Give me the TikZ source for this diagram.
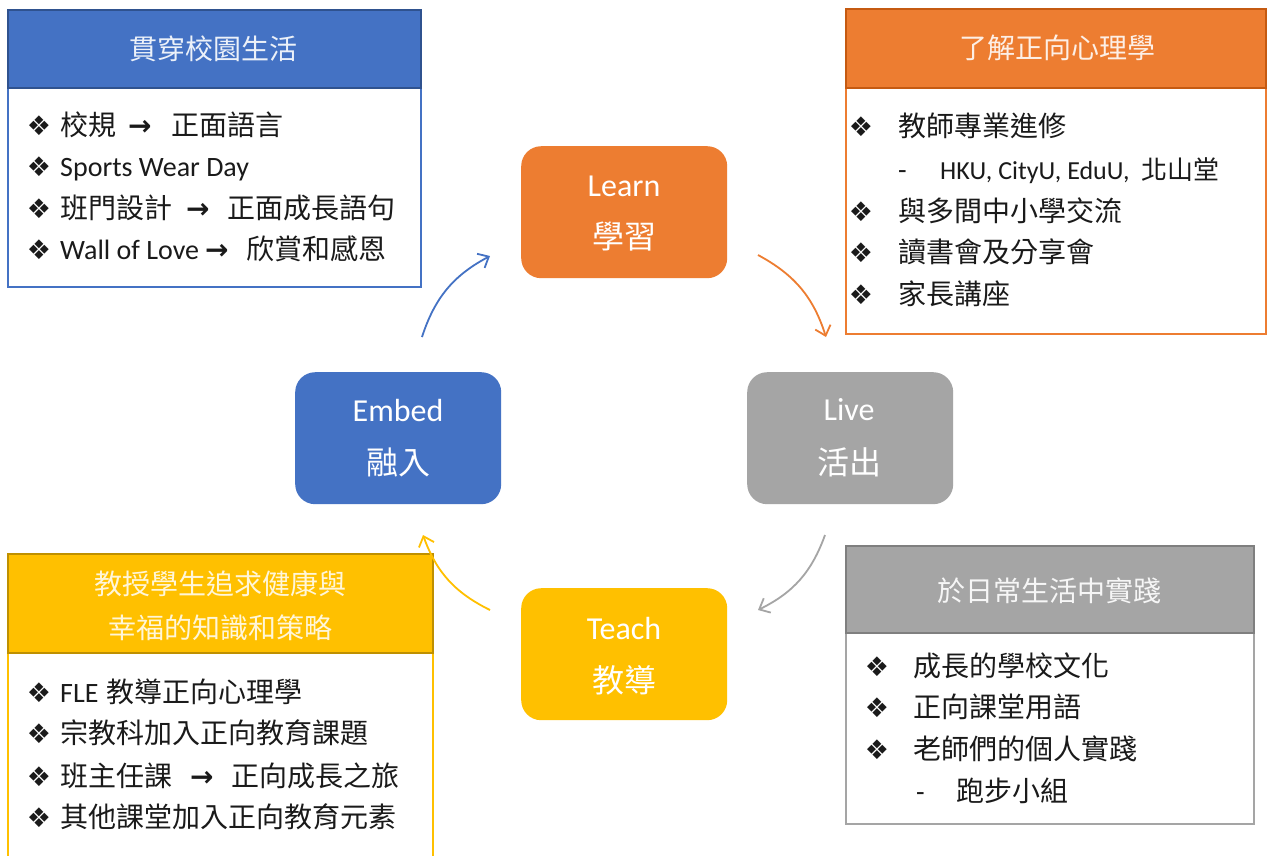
\documentclass[tikz,border=0pt]{standalone}
\usepackage{fontspec}
\setmainfont{Carlito}
\newfontfamily\cjk{Noto Sans CJK TC}
\newfontfamily\sym{DejaVu Sans}
\usetikzlibrary{arrows.meta}
\definecolor{cblue}{HTML}{4472C4}
\definecolor{cblueD}{HTML}{2F528F}
\definecolor{corange}{HTML}{ED7D31}
\definecolor{corangeD}{HTML}{C55A11}
\definecolor{cyellow}{HTML}{FFC000}
\definecolor{cyellowD}{HTML}{BF9000}
\definecolor{cgray}{HTML}{A5A5A5}
\definecolor{cgrayD}{HTML}{7F7F7F}
\definecolor{textc}{HTML}{1A1A1A}
\newcommand{\zh}[1]{{\cjk #1}}
\newcommand{\rarr}{{\sym\bfseries →}}
\begin{document}
\begin{tikzpicture}[x=1pt,y=-1pt,
  outerbox/.style={draw, line width=2pt, anchor=north west, inner sep=0pt, fill=white},
  headbox/.style={draw, line width=1.5pt, anchor=north west, inner sep=0pt},
  hdr/.style={inner sep=0pt, font=\cjk\fontsize{28}{44}\selectfont, align=center},
  txt/.style={anchor=west, inner sep=0pt, text=textc, text height=23pt, text depth=5pt, font=\fontsize{28}{30}\selectfont},
  dia/.style={anchor=center, inner sep=0pt, text=textc, font=\sym\fontsize{27}{30}\selectfont},
  cyc/.style={rounded corners=20pt, inner sep=0pt, minimum width=206pt, minimum height=132pt, anchor=north west},
  cyctxt/.style={inner sep=0pt, text=white, font=\fontsize{32}{34}\selectfont},
  flow/.style={line width=1.8pt, -{Straight Barb[length=9pt,width=16pt,line width=1.8pt]}, bend left=22}
]
\useasboundingbox (0,0) rectangle (1267,855);
\fill[white] (0,0) rectangle (1267,855);

% ---------- top-left blue box ----------
\node[outerbox, draw=cblue, minimum width=413pt, minimum height=277pt] (embBox) at (7,9) {};
\node[headbox, fill=cblue, draw=cblueD, minimum width=413pt, minimum height=78pt] (embHead) at (7,9) {};
\node[hdr, text=white!90!cblue] (embHdr) at (213,49) {貫穿校園生活};
\node[dia] (eb1) at (39,126) {❖};
\node[txt] (et1) at (60,126) {\zh{校規}\hspace{12pt}\rarr\hspace{20pt}\zh{正面語言}};
\node[dia] (eb2) at (39,167) {❖};
\node[txt] (et2) at (60,167) {Sports Wear Day};
\node[dia] (eb3) at (39,209) {❖};
\node[txt] (et3) at (60,209) {\zh{班門設計}\hspace{14pt}\rarr\hspace{18pt}\zh{正面成長語句}};
\node[dia] (eb4) at (39,250) {❖};
\node[txt] (et4) at (60,250) {Wall of Love\hspace{6pt}\rarr\hspace{18pt}\zh{欣賞和感恩}};

% ---------- top-right orange box ----------
\node[outerbox, draw=corange, minimum width=420pt, minimum height=325pt] (lrnBox) at (845,8) {};
\node[headbox, fill=corange, draw=corangeD, minimum width=420pt, minimum height=79pt] (lrnHead) at (845,8) {};
\node[hdr, text=white!88!corange] (lrnHdr) at (1057,48) {了解正向心理學};
\node[dia] (lb1) at (861,127) {❖};
\node[txt] (lt1) at (898,127) {\zh{教師專業進修}};
\node[txt] (ld2) at (898,170) {-};
\node[txt, font=\fontsize{26}{28}\selectfont] (lt2) at (940,170) {HKU, CityU, EduU,\hspace{12pt}\zh{北山堂}};
\node[dia] (lb3) at (861,212) {❖};
\node[txt] (lt3) at (898,212) {\zh{與多間中小學交流}};
\node[dia] (lb4) at (861,253) {❖};
\node[txt] (lt4) at (898,253) {\zh{讀書會及分享會}};
\node[dia] (lb5) at (861,295) {❖};
\node[txt] (lt5) at (898,295) {\zh{家長講座}};

% ---------- bottom-left yellow box ----------
\node[outerbox, draw=cyellow, minimum width=425pt, minimum height=320pt] (tchBox) at (7,553) {};
\node[headbox, fill=cyellow, draw=cyellowD, minimum width=425pt, minimum height=99pt] (tchHead) at (7,553) {};
\node[hdr, text=white!85!cyellow] (tchHdr) at (220,606) {教授學生追求健康與\\幸福的知識和策略};
\node[dia] (tb1) at (39,693) {❖};
\node[txt] (tt1) at (60,693) {FLE\hspace{8pt}\zh{教導正向心理學}};
\node[dia] (tb2) at (39,734) {❖};
\node[txt] (tt2) at (60,734) {\zh{宗教科加入正向教育課題}};
\node[dia] (tb3) at (39,777) {❖};
\node[txt] (tt3) at (60,777) {\zh{班主任課}\hspace{18pt}\rarr\hspace{18pt}\zh{正向成長之旅}};
\node[dia] (tb4) at (39,818) {❖};
\node[txt] (tt4) at (60,818) {\zh{其他課堂加入正向教育元素}};

% ---------- bottom-right gray box ----------
\node[outerbox, draw=cgray, minimum width=408pt, minimum height=278pt] (livBox) at (845,545) {};
\node[headbox, fill=cgray, draw=cgrayD, minimum width=408pt, minimum height=87pt] (livHead) at (845,545) {};
\node[hdr, text=white!90!cgray] (livHdr) at (1049,591) {於日常生活中實踐};
\node[dia] (vb1) at (877,667) {❖};
\node[txt] (vt1) at (913,667) {\zh{成長的學校文化}};
\node[dia] (vb2) at (877,708) {❖};
\node[txt] (vt2) at (913,708) {\zh{正向課堂用語}};
\node[dia] (vb3) at (877,750) {❖};
\node[txt] (vt3) at (913,750) {\zh{老師們的個人實踐}};
\node[txt] (vd4) at (916,792) {-};
\node[txt] (vt4) at (956,792) {\zh{跑步小組}};

% ---------- cycle boxes ----------
\node[cyc, fill=corange] (learn) at (521,146) {};
\node[cyctxt] (learnE) at (624,186) {Learn};
\node[cyctxt, font=\cjk\fontsize{32}{34}\selectfont] (learnC) at (624,237) {學習};

\node[cyc, fill=cblue] (embed) at (295,372) {};
\node[cyctxt] (embedE) at (398,410) {Embed};
\node[cyctxt, font=\cjk\fontsize{32}{34}\selectfont] (embedC) at (398,462) {融入};

\node[cyc, fill=cgray] (live) at (747,372) {};
\node[cyctxt] (liveE) at (849,410) {Live};
\node[cyctxt, font=\cjk\fontsize{32}{34}\selectfont] (liveC) at (849,462) {活出};

\node[cyc, fill=cyellow] (teach) at (521,588) {};
\node[cyctxt] (teachE) at (624,628) {Teach};
\node[cyctxt, font=\cjk\fontsize{32}{34}\selectfont] (teachC) at (624,680) {教導};

% ---------- cycle arrows ----------
\coordinate (a1s) at (422,337); \coordinate (a1e) at (490,256);
\coordinate (a2s) at (758,255); \coordinate (a2e) at (826,337);
\coordinate (a3s) at (825,535); \coordinate (a3e) at (758,610);
\coordinate (a4s) at (490,610); \coordinate (a4e) at (423,535);
\draw[flow, cblue] (a1s) to (a1e);
\draw[flow, corange] (a2s) to (a2e);
\draw[flow, cgray] (a3s) to (a3e);
\draw[flow, cyellow] (a4s) to (a4e);
\end{tikzpicture}
\end{document}
